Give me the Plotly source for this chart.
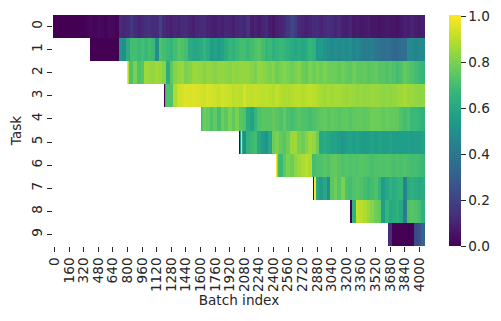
import numpy as np
import plotly.graph_objects as go

# Each task: first batch slot (10-batch slots), fine leading values (10-batch slots),
# then values sampled every 40 batches.
task_0 = [
 0,0,0,0,0,0,0,0,0,.01,
 .02,.015,.03,.02,.01,.03,.02,.01,.13,.11,
 .12,.17,.13,.1,.12,.14,.15,.12,.13,.2,
 .12,.1,.09,.11,.1,.12,.13,.1,.09,.11,
 .12,.13,.1,.09,.08,.1,.09,.11,.1,.09,
 .11,.12,.1,.15,.08,.1,.08,.1,.12,.08,
 .06,.09,.1,.12,.16,.21,.18,.12,.1,.09,
 .1,.12,.13,.1,.12,.14,.13,.1,.12,.09,
 .08,.1,.07,.08,.06,.07,.08,.06,.06,.05,
 .06,.07,.06,.06,.05,.07,.09,.08,.1,.08,
 .07,.08]
task_1_head = [0,0,0]
task_1 = [
 0,0,0,0,0,0,0,.52,.5,.62,
 .7,.7,.68,.7,.68,.7,.68,.5,.72,.7,
 .68,.66,.7,.74,.72,.7,.62,.6,.6,.62,
 .66,.62,.55,.58,.55,.58,.62,.66,.65,.68,
 .7,.7,.68,.7,.72,.74,.7,.66,.68,.64,
 .66,.68,.66,.64,.62,.6,.62,.6,.62,.66,
 .64,.54,.55,.52,.5,.48,.5,.48,.5,.48,
 .5,.46,.48,.44,.42,.42,.44,.4,.38,.36,
 .38,.36,.34,.34,.36,.36,.48,.48,.46,.48,
 .48]
task_2_head = [1,.9,.72]
task_2 = [
 .72,.8,.72,.74,.86,.85,.84,.86,.85,.82,
 .62,.75,.82,.84,.85,.8,.82,.85,.85,.84,
 .82,.84,.84,.82,.84,.84,.83,.82,.84,.83,
 .84,.84,.84,.82,.8,.84,.83,.82,.8,.82,
 .78,.8,.82,.8,.78,.8,.82,.78,.76,.8,
 .78,.8,.78,.8,.78,.78,.78,.76,.78,.76,
 .75,.78,.76,.75,.76,.74,.75,.76,.74,.74,
 .72,.74,.72,.7,.72,.76,.74,.72,.7,.68,
 .66]
task_3_head = [0,.65]
task_3 = [
 .72,.72,.88,.93,.94,.96,.95,.96,.95,.94,
 .93,.95,.94,.93,.92,.94,.93,.92,.9,.91,
 .9,.94,.91,.91,.92,.91,.9,.91,.9,.89,
 .91,.89,.88,.88,.89,.9,.9,.89,.9,.91,
 .9,.89,.87,.86,.87,.86,.87,.87,.86,.85,
 .86,.85,.84,.85,.84,.84,.85,.85,.84,.83,
 .84,.83,.84,.85,.86,.87,.85,.85,.84,.83,
 .84]
task_4_head = [.7,.72]
task_4 = [
 .78,.76,.72,.76,.7,.78,.75,.8,.76,.8,
 .74,.72,.62,.58,.66,.72,.74,.74,.74,.76,
 .74,.72,.76,.72,.7,.72,.74,.72,.72,.7,
 .72,.74,.75,.76,.74,.76,.75,.74,.75,.76,
 .74,.75,.76,.76,.75,.76,.78,.78,.78,.76,
 .77,.76,.76,.76,.72,.7,.72,.68,.68,.66,
 .65]
task_5_head = [0,.55,1,.6]
task_5 = [
 .5,.65,.68,.7,.6,.55,.52,.6,.78,.8,
 .76,.74,.78,.85,.86,.8,.78,.82,.86,.84,
 .78,.6,.62,.6,.58,.58,.56,.54,.56,.58,
 .56,.58,.56,.55,.56,.58,.56,.58,.57,.56,
 .58,.56,.55,.56,.56,.57,.55,.56,.55,.58]
task_6_head = [1,.85,.7]
task_6 = [
 .68,.75,.8,.78,.83,.86,.88,.9,.88,.7,
 .72,.72,.74,.72,.75,.76,.74,.72,.74,.72,
 .73,.72,.74,.73,.72,.71,.72,.73,.72,.73,
 .72,.71,.72,.71,.72,.71,.7,.7,.69,.68]
task_7_head = [0,1,1]
task_7 = [
 .6,.55,.6,.5,.75,.78,.74,.8,.72,.7,
 .72,.74,.72,.7,.68,.7,.72,.66,.55,.6,
 .64,.62,.65,.66,.46,.62,.64,.62,.6,.62]
task_8_head = [0,0]
task_8 = [
 .65,.91,.9,.88,.85,.82,.78,.76,.56,.66,
 .6,.62,.64,.6,.42,.72,.74,.72,.7,.64]
task_9_head = [.12]
task_9 = [.14,0,0,0,0,0,0,.22,.25,.32]

task_starts = [0,41,81,122,162,204,245,285,326,367]
heads = [[],task_1_head,task_2_head,task_3_head,task_4_head,task_5_head,
         task_6_head,task_7_head,task_8_head,task_9_head]
bodies = [task_0,task_1,task_2,task_3,task_4,task_5,task_6,task_7,task_8,task_9]
task_labels = [str(i) for i in range(10)]
batch_labels = list(range(0,4001,160))

n_slots = 408
z = []
for s,h,b in zip(task_starts,heads,bodies):
    row = [None]*s + list(h)
    for v in b:
        row += [v]*4
    assert len(row)==n_slots, (s,len(row))
    z.append(row)
x = [10*i+5 for i in range(n_slots)]

font = dict(family="DejaVu Sans", size=13.6, color="#262626")
fig = go.Figure(go.Heatmap(
    z=z, x=x, y=task_labels, colorscale="Viridis", zmin=0, zmax=1.006,
    hoverongaps=False, xgap=0, ygap=0,
    colorbar=dict(
        x=(449-53)/372, xanchor="left",
        y=0, yanchor="bottom",
        len=1, lenmode="fraction", thickness=12, thicknessmode="pixels",
        outlinewidth=0, ticks="outside", ticklen=5, tickwidth=1.1, tickcolor="#262626",
        tickvals=[0,.2,.4,.6,.8,1], ticktext=["0.0","0.2","0.4","0.6","0.8","1.0"],
        tickfont=font, xpad=0, ypad=0),
))
fig.update_layout(
    width=490, height=310, autosize=False,
    paper_bgcolor="white", plot_bgcolor="white",
    margin=dict(l=45,r=73,t=7,b=72,autoexpand=False),
    font=font,
    xaxis=dict(range=[0,4080], tickmode="array", tickvals=[b+18 for b in batch_labels],
               ticktext=[str(b) for b in batch_labels], tickangle=-90,
               ticks="outside", ticklen=5, tickwidth=1.1, tickcolor="#262626",
               showgrid=False, zeroline=False, showline=False, tickfont=font, automargin=False,
               title=dict(text="Batch index", font=font, standoff=3)),
    yaxis=dict(autorange=False, range=[9.5,-0.5], type="category", tickangle=-90,
               ticks="outside", ticklen=5, tickwidth=1.1, tickcolor="#262626",
               showgrid=False, zeroline=False, showline=False, tickfont=font, automargin=False,
               title=dict(text="Task", font=font, standoff=5)),
)
fig.write_html("out.html")
